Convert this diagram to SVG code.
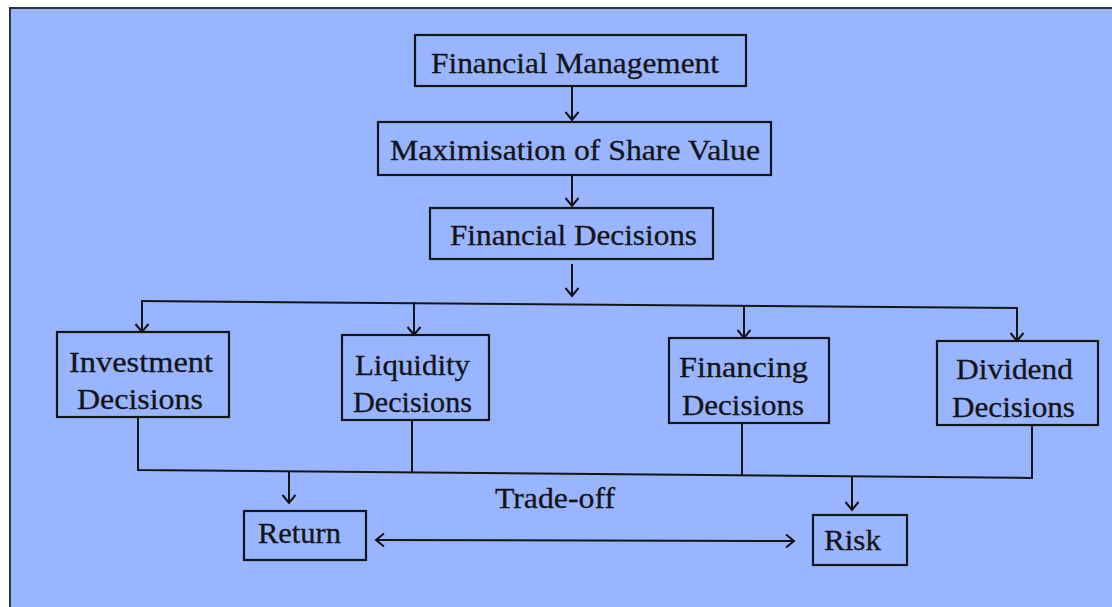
<svg xmlns="http://www.w3.org/2000/svg" width="1112" height="607" viewBox="0 0 1112 607">
  <defs>
    <marker id="arr" markerUnits="userSpaceOnUse" markerWidth="16" markerHeight="16" refX="12" refY="8" orient="auto-start-reverse">
      <path d="M4,1.5 L12,8 L4,14.5" fill="none" stroke="#111" stroke-width="2"/>
    </marker>
  </defs>
  <style>
    .bg { fill: #99b5ff; }
    .frame { fill: none; stroke: #2b3445; stroke-width: 2; }
    .box { fill: none; stroke: #151515; stroke-width: 2.2; }
    .t { font-family: "Liberation Serif", "Times New Roman", serif; font-size: 29px; fill: #141414; stroke: #141414; stroke-width: 0.3; }
    .c { fill: none; stroke: #151515; stroke-width: 2; }
    .a { marker-end: url(#arr); }
  </style>
  <rect x="0" y="0" width="1112" height="607" fill="#ffffff"/>
  <rect class="bg" x="9" y="7" width="1103" height="600"/>
  <path class="frame" d="M10,607 L10,8 L1112,8"/>

  <g id="financial-management">
    <rect class="box" x="415" y="35" width="331" height="51"/>
    <text class="t" x="431" y="73" textLength="288" lengthAdjust="spacingAndGlyphs">Financial  Management</text>
  </g>
  <g id="maximisation">
    <rect class="box" x="378" y="122" width="393" height="53"/>
    <text class="t" x="390" y="160" textLength="370" lengthAdjust="spacingAndGlyphs">Maximisation of Share Value</text>
  </g>
  <g id="financial-decisions">
    <rect class="box" x="430" y="208" width="283" height="51"/>
    <text class="t" x="450" y="245" textLength="247" lengthAdjust="spacingAndGlyphs">Financial Decisions</text>
  </g>
  <g id="investment">
    <rect class="box" x="57" y="332" width="172" height="85"/>
    <text class="t" x="69" y="372" textLength="144" lengthAdjust="spacingAndGlyphs">Investment</text>
    <text class="t" x="77" y="409" textLength="126" lengthAdjust="spacingAndGlyphs">Decisions</text>
  </g>
  <g id="liquidity">
    <rect class="box" x="342" y="335" width="147" height="85"/>
    <text class="t" x="355" y="375" textLength="115" lengthAdjust="spacingAndGlyphs">Liquidity</text>
    <text class="t" x="353" y="412" textLength="119" lengthAdjust="spacingAndGlyphs">Decisions</text>
  </g>
  <g id="financing">
    <rect class="box" x="669" y="338" width="160" height="85"/>
    <text class="t" x="679" y="377" textLength="129" lengthAdjust="spacingAndGlyphs">Financing</text>
    <text class="t" x="682" y="415" textLength="122" lengthAdjust="spacingAndGlyphs">Decisions</text>
  </g>
  <g id="dividend">
    <rect class="box" x="937" y="341" width="161" height="84"/>
    <text class="t" x="956" y="379" textLength="117" lengthAdjust="spacingAndGlyphs">Dividend</text>
    <text class="t" x="952" y="417" textLength="123" lengthAdjust="spacingAndGlyphs">Decisions</text>
  </g>
  <g id="return">
    <rect class="box" x="244" y="511" width="122" height="49"/>
    <text class="t" x="258" y="543" textLength="83" lengthAdjust="spacingAndGlyphs">Return</text>
  </g>
  <g id="risk">
    <rect class="box" x="813" y="515" width="94" height="50"/>
    <text class="t" x="824" y="550" textLength="57" lengthAdjust="spacingAndGlyphs">Risk</text>
  </g>
  <g id="trade-off-label">
    <text class="t" x="495" y="508" textLength="120" lengthAdjust="spacingAndGlyphs">Trade-off</text>
  </g>

  <g id="connectors">
    <line class="c a" x1="572" y1="86" x2="572" y2="120"/>
    <line class="c a" x1="572" y1="175" x2="572" y2="206"/>
    <line class="c a" x1="572" y1="264" x2="572" y2="296"/>
    <line class="c" x1="141" y1="301" x2="1018" y2="308"/>
    <line class="c a" x1="142" y1="300" x2="142" y2="332"/>
    <line class="c a" x1="414" y1="302" x2="414" y2="335"/>
    <line class="c a" x1="744" y1="305" x2="744" y2="338"/>
    <line class="c a" x1="1017" y1="307" x2="1017" y2="341"/>
    <polyline class="c" points="138,417 138,470 1032,478 1032,425"/>
    <line class="c" x1="412" y1="420" x2="412" y2="472"/>
    <line class="c" x1="742" y1="423" x2="742" y2="475"/>
    <line class="c a" x1="289" y1="471" x2="289" y2="503"/>
    <line class="c a" x1="852" y1="477" x2="852" y2="510"/>
    <line class="c" x1="376" y1="540" x2="794" y2="541" marker-start="url(#arr)" marker-end="url(#arr)"/>
  </g>
</svg>
